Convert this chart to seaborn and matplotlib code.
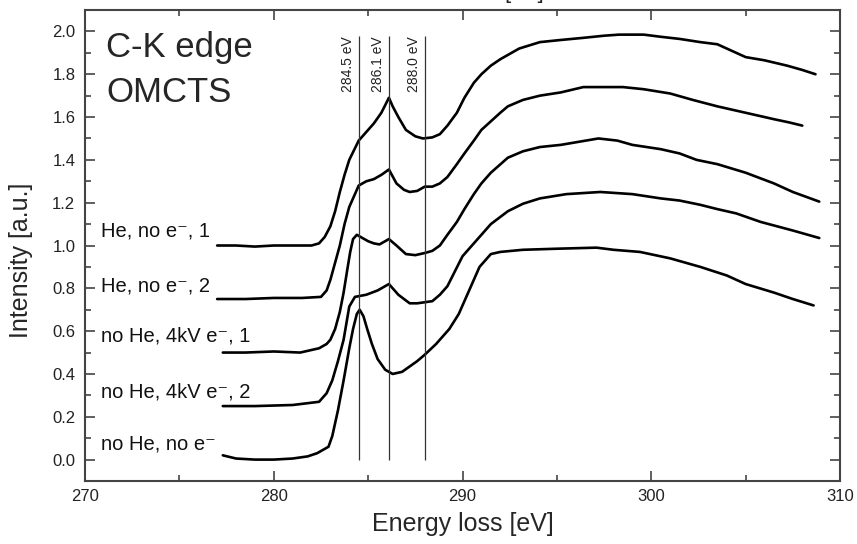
import pandas as pd
import seaborn as sns
import matplotlib.pyplot as plt
from matplotlib.ticker import MultipleLocator


# spectra (already offset vertically)
labels = ['He, no e\u207b, 1', 'He, no e\u207b, 2', 'no He, 4kV e\u207b, 1',
          'no He, 4kV e\u207b, 2', 'no He, no e\u207b']
label_y = [1.042, 0.785, 0.551, 0.29, 0.047]

e_he1 = [277.0, 278.0, 279.0, 280.0, 281.0, 282.0, 282.4, 282.7, 283.0, 283.25,
         283.5, 283.75, 284.0, 284.5, 284.9, 285.3, 285.7, 286.1, 286.3, 286.6,
         287.0, 287.5, 287.9, 288.4, 288.8, 289.2, 289.7, 290.1, 290.6, 291.0,
         291.5, 292.0, 292.4, 293.0, 294.1, 295.2, 296.4, 297.5, 298.3, 299.6,
         300.5, 301.5, 302.6, 303.5, 304.0, 305.0, 306.0, 307.2, 308.0, 308.7]
i_he1 = [1.00, 1.00, 0.995, 1.00, 1.00, 1.00, 1.01, 1.04, 1.09, 1.16,
         1.25, 1.33, 1.40, 1.49, 1.53, 1.57, 1.62, 1.69, 1.65, 1.60,
         1.54, 1.51, 1.50, 1.505, 1.52, 1.56, 1.62, 1.69, 1.76, 1.80,
         1.84, 1.87, 1.89, 1.92, 1.95, 1.96, 1.97, 1.98, 1.985, 1.985,
         1.975, 1.965, 1.95, 1.94, 1.92, 1.88, 1.865, 1.84, 1.82, 1.80]

e_he2 = [277.0, 278.5, 280.0, 281.5, 282.5, 282.8, 283.0, 283.25, 283.5, 283.75,
         284.0, 284.5, 284.9, 285.3, 285.7, 286.1, 286.5, 286.9, 287.2, 287.6,
         288.0, 288.4, 288.8, 289.2, 289.7, 290.1, 290.6, 291.0, 291.5, 292.0,
         292.4, 293.2, 294.1, 295.2, 296.4, 297.5, 298.5, 299.6, 301.0, 302.2,
         303.5, 305.0, 306.5, 307.3, 308.0]
i_he2 = [0.75, 0.75, 0.755, 0.755, 0.76, 0.79, 0.84, 0.92, 1.00, 1.10,
         1.18, 1.28, 1.30, 1.31, 1.33, 1.355, 1.29, 1.26, 1.25, 1.255,
         1.275, 1.275, 1.29, 1.32, 1.38, 1.43, 1.49, 1.54, 1.58, 1.62,
         1.65, 1.68, 1.70, 1.715, 1.74, 1.74, 1.74, 1.73, 1.71, 1.68,
         1.65, 1.62, 1.59, 1.575, 1.56]

e_e1 = [277.3, 278.5, 280.0, 281.4, 282.4, 282.8, 283.0, 283.25, 283.5, 283.7,
        283.9, 284.05, 284.2, 284.4, 284.7, 285.0, 285.3, 285.6, 286.1, 286.5,
        287.0, 287.5, 288.0, 288.4, 288.8, 289.2, 289.7, 290.1, 290.6, 291.0,
        291.5, 292.4, 293.2, 294.1, 295.2, 296.2, 297.2, 298.2, 299.0, 300.5,
        301.5, 302.4, 303.5, 305.0, 306.5, 307.5, 308.9]
i_e1 = [0.50, 0.50, 0.505, 0.50, 0.52, 0.54, 0.56, 0.61, 0.69, 0.78,
        0.89, 0.97, 1.03, 1.05, 1.035, 1.02, 1.01, 1.005, 1.03, 1.00,
        0.96, 0.955, 0.965, 0.975, 1.00, 1.05, 1.11, 1.17, 1.24, 1.29,
        1.34, 1.41, 1.44, 1.46, 1.47, 1.485, 1.50, 1.49, 1.47, 1.45,
        1.43, 1.40, 1.38, 1.34, 1.29, 1.25, 1.205]

e_e2 = [277.3, 279.0, 281.0, 282.4, 282.8, 283.1, 283.4, 283.7, 284.0, 284.3,
        284.9, 285.5, 286.1, 286.6, 287.2, 287.6, 288.0, 288.4, 288.8, 289.2,
        289.6, 290.0, 290.5, 290.9, 291.5, 292.4, 293.2, 294.1, 295.5, 297.3,
        299.0, 300.5, 301.5, 302.6, 303.5, 304.5, 305.8, 307.5, 308.9]
i_e2 = [0.25, 0.25, 0.255, 0.27, 0.31, 0.37, 0.46, 0.56, 0.715, 0.76,
        0.77, 0.79, 0.82, 0.77, 0.73, 0.73, 0.735, 0.74, 0.77, 0.81,
        0.88, 0.95, 1.00, 1.04, 1.10, 1.16, 1.195, 1.22, 1.24, 1.25,
        1.24, 1.22, 1.21, 1.19, 1.17, 1.15, 1.11, 1.07, 1.035]

e_none = [277.3, 278.0, 279.0, 280.0, 281.0, 281.8, 282.3, 282.6, 282.9, 283.1,
          283.4, 283.7, 284.0, 284.2, 284.4, 284.55, 284.75, 284.95, 285.2, 285.5,
          285.9, 286.3, 286.8, 287.2, 287.6, 288.0, 288.6, 289.3, 289.8, 290.2,
          290.6, 290.9, 291.2, 291.5, 292.0, 293.2, 295.0, 297.1, 298.0, 299.4,
          301.0, 302.6, 304.0, 305.0, 306.5, 307.5, 308.6]
i_none = [0.02, 0.005, 0.0, 0.0, 0.005, 0.015, 0.03, 0.045, 0.06, 0.11,
          0.23, 0.37, 0.52, 0.61, 0.68, 0.70, 0.67, 0.61, 0.54, 0.47,
          0.42, 0.40, 0.41, 0.435, 0.46, 0.49, 0.54, 0.61, 0.68, 0.76,
          0.84, 0.90, 0.93, 0.96, 0.97, 0.98, 0.985, 0.99, 0.98, 0.97,
          0.94, 0.90, 0.86, 0.82, 0.78, 0.75, 0.72]

peaks = [284.5, 286.1, 288.0]
peak_labels = ['284.5 eV', '286.1 eV', '288.0 eV']


def make_frame():
  parts = []
  for name, e, i in zip(labels,
                        [e_he1, e_he2, e_e1, e_e2, e_none],
                        [i_he1, i_he2, i_e1, i_e2, i_none]):
    parts.append(pd.DataFrame({'energy': e, 'intensity': i, 'series': name}))
  return pd.concat(parts, ignore_index=True)


def main():
  sns.set_style('ticks')
  plt.rcParams['font.family'] = ['Liberation Sans', 'DejaVu Sans']
  axis_col = '#444444'

  fig = plt.figure(figsize=(8.57, 5.44), dpi=100)
  ax = fig.add_axes([0.0992, 0.1158, 0.8810, 0.8658])

  df = make_frame()
  sns.lineplot(data=df, x='energy', y='intensity', hue='series',
               palette=['black'] * 5, sort=False, estimator=None,
               legend=False, linewidth=1.9, ax=ax)

  # reference energies
  ax.vlines(peaks, 0.0, 1.977, color='#333333', linewidth=0.9)
  for x, t in zip(peaks, peak_labels):
    ax.annotate(t, (x, 1.977), xytext=(-2.5, 0), textcoords='offset points',
                rotation=90, ha='right', va='top', fontsize=10, color='#222222')

  # series labels on the left
  trans = ax.get_yaxis_transform()
  for t, y in zip(labels, label_y):
    ax.text(0.021, y, t, transform=trans, fontsize=14.5, va='baseline',
            color='#111111')

  ax.text(0.028, 0.900, 'C-K edge', transform=ax.transAxes, fontsize=25,
          va='baseline')
  ax.text(0.028, 0.805, 'OMCTS', transform=ax.transAxes, fontsize=25,
          va='baseline')

  ax.set_xlim(270, 310)
  ax.set_ylim(-0.1, 2.1)
  ax.xaxis.set_major_locator(MultipleLocator(10))
  ax.xaxis.set_minor_locator(MultipleLocator(5))
  ax.yaxis.set_major_locator(MultipleLocator(0.2))
  ax.yaxis.set_minor_locator(MultipleLocator(0.1))
  ax.yaxis.set_major_formatter(plt.FormatStrFormatter('%.1f'))

  ax.tick_params(which='both', direction='in', top=True, right=True,
                 color=axis_col, labelsize=12, labelcolor='#222222')
  ax.tick_params(which='major', length=7, width=1.2)
  ax.tick_params(which='minor', length=4.5, width=1.2)
  ax.tick_params(axis='x', pad=6)
  ax.tick_params(axis='y', pad=7)
  for s in ax.spines.values():
    s.set_color(axis_col)
    s.set_linewidth(1.5)

  ax.set_xlabel('Energy loss [eV]', fontsize=18)
  ax.set_ylabel('Intensity [a.u.]', fontsize=18)
  ax.xaxis.set_label_coords(0.5, -0.066)
  ax.yaxis.set_label_coords(-0.069, 0.469)

  # clipped heading at the very top edge, as in the source image
  fig.text(524 / 857, 1.0037, '[eV]', ha='center', va='baseline', fontsize=16)

  plt.savefig('out.png', dpi=100)
  plt.clf()


if __name__ == "__main__":
  main()
